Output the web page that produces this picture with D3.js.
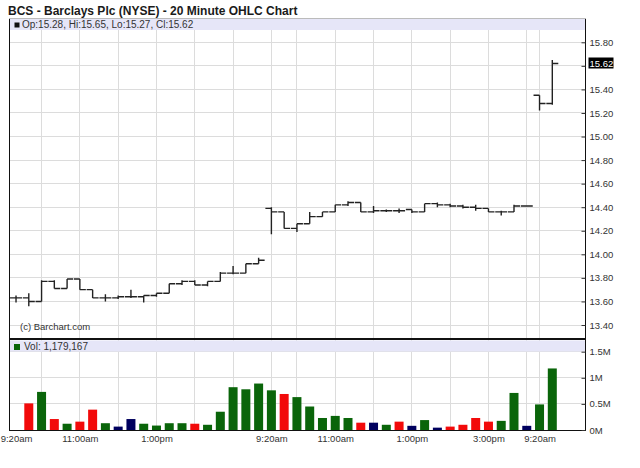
<!DOCTYPE html>
<html>
<head>
<meta charset="utf-8">
<script src="https://cdn.jsdelivr.net/npm/d3@7"></script>
<style>
  body { margin: 0; background: #fff; }
  text { font-family: "Liberation Sans", Arial, sans-serif; }
</style>
</head>
<body>
<div id="chart"></div>
<script>
// 20 minute bars, three sessions (bar index = position on the x axis)
const opens  = [13.63,13.63,13.60,13.77,13.71,13.79,13.70,13.63,13.63,13.64,
                13.64,13.65,13.67,13.75,13.77,13.74,13.77,13.84,13.84,13.92,
                14.39,14.36,14.22,14.26,14.32,14.36,14.42,14.44,14.36,14.37,
                14.37,14.38,14.36,14.43,14.42,14.41,14.40,14.39,14.36,14.36,
                14.41,15.35,15.28];
const highs  = [13.65,13.67,13.78,13.78,13.79,13.79,13.70,13.66,13.65,13.70,
                13.65,13.67,13.75,13.78,13.78,13.77,13.85,13.90,13.92,13.97,
                14.40,14.36,14.26,14.36,14.36,14.42,14.45,14.44,14.41,14.38,
                14.39,14.38,14.43,14.44,14.43,14.42,14.42,14.39,14.37,14.42,
                14.41,15.35,15.65];
const lows   = [13.59,13.56,13.60,13.71,13.71,13.70,13.63,13.60,13.62,13.63,
                13.59,13.64,13.67,13.74,13.74,13.73,13.77,13.83,13.84,13.92,
                14.17,14.22,14.19,14.26,14.32,14.36,14.41,14.36,14.35,14.36,
                14.35,14.35,14.36,14.40,14.40,14.39,14.37,14.36,14.33,14.36,
                14.41,15.22,15.27];
const closes = [13.63,13.60,13.77,13.71,13.79,13.70,13.63,13.63,13.64,13.64,
                13.65,13.67,13.75,13.77,13.74,13.77,13.84,13.84,13.92,13.95,
                14.36,14.22,14.26,14.32,14.36,14.42,14.44,14.36,14.37,14.37,
                14.37,14.36,14.43,14.42,14.41,14.40,14.39,14.36,14.36,14.41,
                14.41,15.28,15.62];
const volumes = [0,510000,730000,210000,120000,160000,390000,130000,65000,210000,
                 120000,85000,130000,130000,120000,100000,350000,820000,780000,890000,
                 760000,690000,630000,450000,230000,270000,230000,140000,140000,100000,
                 160000,80000,190000,45000,65000,100000,230000,160000,175000,710000,
                 80000,490000,1179167];
const volDir = ['up','dn','up','dn','up','dn','dn','up','eq','eq',
                'up','up','up','up','dn','up','up','up','up','up',
                'up','dn','up','up','up','up','up','dn','eq','up',
                'dn','eq','up','eq','dn','dn','dn','dn','up','up',
                'eq','up','up'];

const timeIdx    = [0, 5, 11, 20, 25, 31, 37, 41];
const timeLabels = ['9:20am','11:00am','1:00pm','9:20am','11:00am','1:00pm','3:00pm','9:20am'];
const gridIdx    = [2, 5, 8, 11, 14, 17, 20, 22, 25, 28, 31, 34, 37, 40, 41];
const priceTicks = [13.40,13.60,13.80,14.00,14.20,14.40,14.60,14.80,15.00,15.20,15.40,15.60,15.80];
const volTicks   = [0, 500000, 1000000, 1500000];
const volLabels  = ['0M','0.5M','1M','1.5M'];

const title = 'BCS - Barclays Plc (NYSE) - 20 Minute OHLC Chart';
const last = closes.length - 1;

const width = 640, height = 468;
const left = 9, right = 585.5;
const priceTop = 18, priceBot = 338, volTop = 340, volBot = 430;

const svg = d3.select('#chart').append('svg')
  .attr('width', width).attr('height', height)
  .style('display', 'block');

const x  = d3.scaleLinear().domain([-0.55, 44.6]).range([left, right]);
const y  = d3.scaleLinear().domain([13.4, 15.8]).range([325, 42.3]);
const yv = d3.scaleLinear().domain([0, 1500000]).range([volBot, 351.7]);
const volColor = d3.scaleOrdinal().domain(['up','dn','eq']).range(['#0a650a','#f20a0a','#00005e']);

// title
svg.append('text').attr('x', 8).attr('y', 15)
  .attr('font-size', 12).attr('font-weight', 'bold').attr('fill', '#1a1a1a')
  .text(title);

// grid
const grid = svg.append('g').attr('stroke', '#dcdcdc').attr('stroke-width', 1)
  .attr('shape-rendering', 'crispEdges');
grid.selectAll('.hp').data(priceTicks).enter().append('line')
  .attr('x1', left).attr('x2', right)
  .attr('y1', d => y(d)).attr('y2', d => y(d));
grid.selectAll('.hv').data(volTicks.slice(1)).enter().append('line')
  .attr('x1', left).attr('x2', right)
  .attr('y1', d => yv(d)).attr('y2', d => yv(d));
grid.selectAll('.vp').data(gridIdx).enter().append('line')
  .attr('x1', d => x(d)).attr('x2', d => x(d))
  .attr('y1', priceTop).attr('y2', priceBot);
grid.selectAll('.vv').data(gridIdx).enter().append('line')
  .attr('x1', d => x(d)).attr('x2', d => x(d))
  .attr('y1', volTop).attr('y2', volBot);

// legend bars
svg.append('rect').attr('x', left).attr('y', 19).attr('width', right - left).attr('height', 11)
  .attr('fill', '#e6e6f8');
svg.append('rect').attr('x', 14.5).attr('y', 22.5).attr('width', 5).attr('height', 5).attr('fill', '#111');
svg.append('text').attr('x', 22).attr('y', 28).attr('font-size', 10).attr('fill', '#333')
  .text(`Op:${opens[last].toFixed(2)}, Hi:${highs[last].toFixed(2)}, Lo:${lows[last].toFixed(2)}, Cl:${closes[last].toFixed(2)}`);

svg.append('rect').attr('x', left).attr('y', 340.5).attr('width', right - left).attr('height', 11)
  .attr('fill', '#e6e6f8');
svg.append('rect').attr('x', 14).attr('y', 344).attr('width', 6).attr('height', 6).attr('fill', volColor('up'));
svg.append('text').attr('x', 24).attr('y', 350).attr('font-size', 10).attr('fill', '#333')
  .text('Vol: ' + d3.format(',')(volumes[last]));

svg.append('text').attr('x', 20).attr('y', 329.5).attr('font-size', 9.5).attr('fill', '#333')
  .text('(c) Barchart.com');

// OHLC bars
const bars = d3.range(closes.length);
svg.append('g').selectAll('path').data(bars).enter().append('path')
  .attr('fill', 'none').attr('stroke', '#222').attr('stroke-width', 1.4)
  .attr('d', i => {
    const cx = x(i);
    return `M${cx - 6},${y(opens[i])}H${cx}M${cx},${y(highs[i])}V${y(lows[i])}M${cx},${y(closes[i])}H${cx + 6}`;
  });

// volume bars
svg.append('g').selectAll('rect').data(bars.filter(i => volumes[i] > 0)).enter().append('rect')
  .attr('x', i => x(i) - 4.5).attr('width', 9)
  .attr('y', i => yv(volumes[i])).attr('height', i => volBot - yv(volumes[i]))
  .attr('fill', i => volColor(volDir[i]));

// frame lines
const frame = svg.append('g').attr('stroke', '#111').attr('shape-rendering', 'crispEdges');
frame.append('line').attr('x1', left).attr('x2', left).attr('y1', 18).attr('y2', volBot);
frame.append('line').attr('x1', right).attr('x2', right).attr('y1', 18).attr('y2', volBot + 1);
frame.append('line').attr('x1', left).attr('x2', right).attr('y1', 18).attr('y2', 18).attr('stroke', '#bbb');
frame.append('line').attr('x1', left).attr('x2', right).attr('y1', 339).attr('y2', 339).attr('stroke-width', 2);
frame.append('line').attr('x1', left).attr('x2', right).attr('y1', volBot + 0.5).attr('y2', volBot + 0.5).attr('stroke-width', 1.5);

// right axes; the tick label under the last-price flag is hidden, as in the original
const hiddenUnderFlag = d => Math.abs(y(d) - y(closes[last])) < 10;
const priceAxis = d3.axisRight(y).tickValues(priceTicks)
  .tickFormat(d => hiddenUnderFlag(d) ? '' : d3.format('.2f')(d))
  .tickSize(-4).tickSizeOuter(0).tickPadding(4);
svg.append('g').attr('transform', `translate(${right},0)`).call(priceAxis)
  .call(g => g.select('.domain').remove())
  .call(g => g.selectAll('text').attr('font-size', 9.5).attr('font-family', '"Liberation Sans", Arial, sans-serif').attr('fill', '#333'))
  .call(g => g.selectAll('line').attr('stroke', '#333'));

const volAxis = d3.axisRight(yv).tickValues(volTicks).tickFormat((d, i) => volLabels[i])
  .tickSize(-4).tickSizeOuter(0).tickPadding(4);
svg.append('g').attr('transform', `translate(${right},0)`).call(volAxis)
  .call(g => g.select('.domain').remove())
  .call(g => g.selectAll('text').attr('font-size', 9.5).attr('font-family', '"Liberation Sans", Arial, sans-serif').attr('fill', '#333'))
  .call(g => g.selectAll('line').attr('stroke', '#333'));

// last price flag
const flag = svg.append('g').attr('transform', `translate(${right + 3},${y(closes[last])})`);
flag.append('rect').attr('x', 0).attr('y', -6).attr('width', 25).attr('height', 11).attr('fill', '#000');
flag.append('text').attr('x', 1).attr('y', 3.5).attr('font-size', 9.5).attr('fill', '#fff')
  .text(closes[last].toFixed(2));

// time axis
const timeAxis = d3.axisBottom(x).tickValues(timeIdx).tickFormat((d, i) => timeLabels[i])
  .tickSize(0).tickPadding(5);
svg.append('g').attr('transform', `translate(0,${volBot})`).call(timeAxis)
  .call(g => g.select('.domain').remove())
  .call(g => g.selectAll('text').attr('font-size', 9.5).attr('font-family', '"Liberation Sans", Arial, sans-serif').attr('fill', '#333'));
</script>
</body>
</html>
